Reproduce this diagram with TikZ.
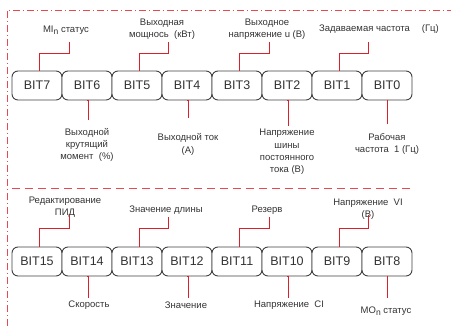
\documentclass[tikz,border=0pt]{standalone}
\usepackage{fontspec}
\setmainfont{Liberation Sans}
\usetikzlibrary{positioning,calc}
\definecolor{linkred}{RGB}{218,32,42}
\definecolor{framered}{RGB}{232,72,82}
\definecolor{boxgray}{RGB}{64,64,64}
\newcommand{\lown}{\raisebox{-2pt}{\fontsize{8.5}{9}\selectfont n}}

\begin{document}
\begin{tikzpicture}[x=1pt, y=1pt,
    bitbox/.style={draw=boxgray, line width=0.9pt, rounded corners=6pt, fill=white, minimum width=50pt, minimum height=29pt, inner sep=0pt, font=\fontsize{12.5}{14}\selectfont, text=black!80},
    lbl/.style={align=center, inner sep=0pt, font=\fontsize{9.5}{12.3}\selectfont, text=black!80},
    link/.style={draw=linkred, line width=0.9pt}]
    \useasboundingbox (0,0) rectangle (451,326);
    % frame
    \draw[framered, line width=0.9pt, dash pattern=on 7pt off 3pt on 1pt off 3pt] (7,0) -- (7,316) -- (451,316);
    \draw[framered, line width=0.9pt, dash pattern=on 8pt off 5pt] (12,138) -- (412,138);
    % Row 1: BIT7 ... BIT0
    \node[bitbox] (b7) at (37,240.5) {BIT7};
    \node[bitbox] (b6) at (87,240.5) {BIT6};
    \node[bitbox] (b5) at (137,240.5) {BIT5};
    \node[bitbox] (b4) at (187,240.5) {BIT4};
    \node[bitbox] (b3) at (237,240.5) {BIT3};
    \node[bitbox] (b2) at (287,240.5) {BIT2};
    \node[bitbox] (b1) at (337,240.5) {BIT1};
    \node[bitbox] (b0) at (387,240.5) {BIT0};
    % Row 1 labels
    \node[lbl] (l7) at (66,296) {MI\lown\ статус};
    \node[lbl] (l5) at (162,297) {Выходная\\мощнось~~(кВт)};
    \node[lbl] (l3) at (267,297) {Выходное\\напряжение u (В)};
    \node[lbl] (l1) at (379,297) {Задаваемая частота\hspace{12pt}(Гц)};
    \node[lbl] (l6) at (87,181) {Выходной\\крутящий\\момент~~(\%)};
    \node[lbl] (l4) at (188,181.5) {Выходной ток\\(А)};
    \node[lbl] (l2) at (287,174) {Напряжение\\шины\\постоянного\\тока (В)};
    \node[lbl] (l0) at (387,182) {Рабочая\\частота~~1 (Гц)};
    % Row 2: BIT15 ... BIT8
    \node[bitbox] (b15) at (37,64.5) {BIT15};
    \node[bitbox] (b14) at (87,64.5) {BIT14};
    \node[bitbox] (b13) at (137,64.5) {BIT13};
    \node[bitbox] (b12) at (187,64.5) {BIT12};
    \node[bitbox] (b11) at (237,64.5) {BIT11};
    \node[bitbox] (b10) at (287,64.5) {BIT10};
    \node[bitbox] (b9) at (337,64.5) {BIT9};
    \node[bitbox] (b8) at (387,64.5) {BIT8};
    % Row 2 labels
    \node[lbl] (l15) at (65,118.5) {Редактирование\\ПИД};
    \node[lbl] (l13) at (166,116) {Значение длины};
    \node[lbl] (l11) at (267,116) {Резерв};
    \node[lbl] (l9) at (368,116.5) {Напряжение~~VI\\(В)};
    \node[lbl] (l14) at (89,21) {Скорость};
    \node[lbl] (l12) at (186,21) {Значение};
    \node[lbl] (l10) at (289,21) {Напряжение~~CI};
    \node[lbl] (l8) at (386,15) {MO\lown\ статус};
    % connector ends
    \coordinate (e7) at (69,284);
    \coordinate (e5) at (168,284);
    \coordinate (e3) at (269,284);
    \coordinate (e1) at (368,284);
    \coordinate (e6) at (88,206);
    \coordinate (e4) at (188,208);
    \coordinate (e2) at (288,200);
    \coordinate (e0) at (387,202);
    \coordinate (e15) at (69,111);
    \coordinate (e13) at (168,109);
    \coordinate (e11) at (269,109);
    \coordinate (e9) at (368,111);
    \coordinate (e14) at (88,28);
    \coordinate (e12) at (188,28);
    \coordinate (e10) at (288,28);
    \coordinate (e8) at (387,28);
    % connectors
    \draw[link] ([xshift=2pt]b7.north) -- ++(0,17) -| (e7);
    \draw[link] ([xshift=2pt]b5.north) -- ++(0,17) -| (e5);
    \draw[link] ([xshift=2pt]b3.north) -- ++(0,17) -| (e3);
    \draw[link] ([xshift=2pt]b1.north) -- ++(0,17) -| (e1);
    \draw[link] (b6.south) -- (b6.south -| e6) -- (e6);
    \draw[link] (b4.south) -- (b4.south -| e4) -- (e4);
    \draw[link] (b2.south) -- (b2.south -| e2) -- (e2);
    \draw[link] (b0.south) -- (e0);
    \draw[link] ([xshift=2pt]b15.north) -- ++(0,18) -| (e15);
    \draw[link] ([xshift=2pt]b13.north) -- ++(0,18) -| (e13);
    \draw[link] ([xshift=2pt]b11.north) -- ++(0,18) -| (e11);
    \draw[link] ([xshift=2pt]b9.north) -- ++(0,18) -| (e9);
    \draw[link] (b14.south) -- (b14.south -| e14) -- (e14);
    \draw[link] (b12.south) -- (b12.south -| e12) -- (e12);
    \draw[link] (b10.south) -- (b10.south -| e10) -- (e10);
    \draw[link] (b8.south) -- (e8);
\end{tikzpicture}
\end{document}
